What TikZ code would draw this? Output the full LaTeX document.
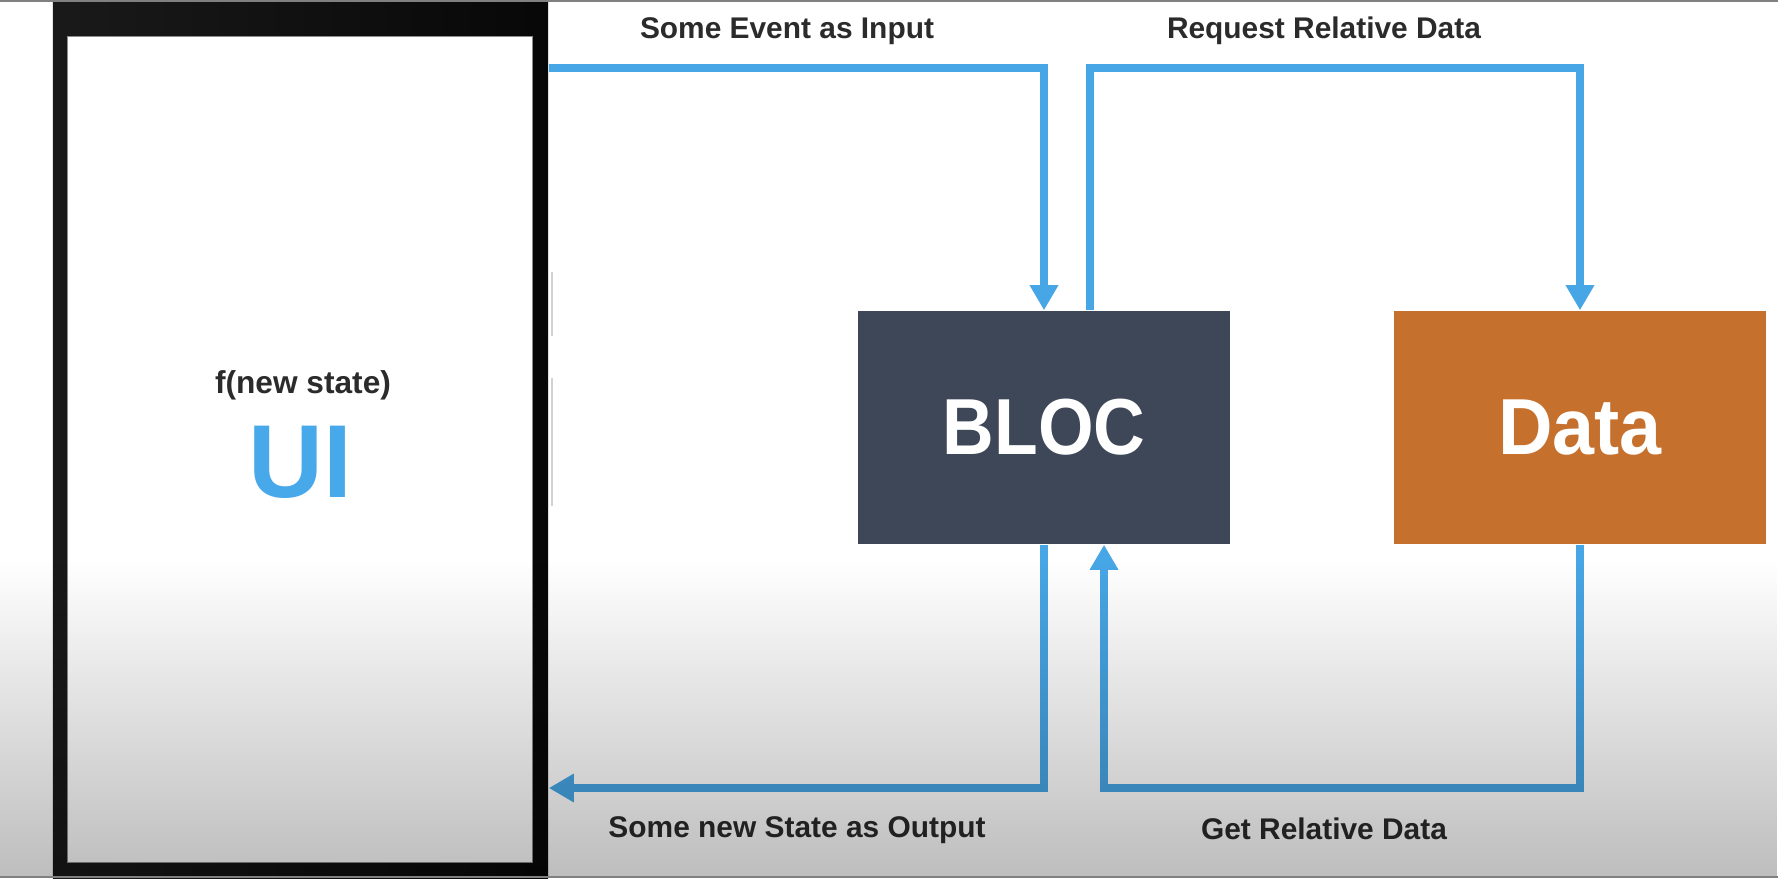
\documentclass[tikz,border=0pt]{standalone}
\usepackage{fontspec}
\usepackage{graphicx}
\setmainfont{Liberation Sans}
\usetikzlibrary{arrows.meta,fadings}
\definecolor{flowblue}{HTML}{47A6E5}
\definecolor{uiblue}{HTML}{47A8EA}
\definecolor{blocfill}{HTML}{3D4758}
\definecolor{datafill}{HTML}{C6702D}
\definecolor{labelgray}{HTML}{2B2B2B}
\tikzfading[name=fadedown, top color=transparent!100, bottom color=transparent!0]
\tikzset{
  flow/.style={draw=flowblue, line width=0.08cm, -{Triangle[length=0.25cm,width=0.27cm]}},
  boxnode/.style={minimum width=3.72cm, minimum height=2.33cm, inner sep=0pt, text=white,
    font=\bfseries\fontsize{22.6pt}{26pt}\selectfont},
  lab/.style={text=labelgray, inner sep=0pt, font=\bfseries\fontsize{8.5pt}{10pt}\selectfont},
  phonebody/.style={minimum width=4.95cm, minimum height=8.78cm, inner sep=0pt,
    left color=black!90, right color=black!97, draw=none},
  screenbox/.style={minimum width=4.64cm, minimum height=8.25cm, inner sep=0pt,
    fill=white, draw=black!45, line width=0.01cm},
  sidebtn/.style={draw=black!18, line width=0.02cm},
}
\begin{document}
\begin{tikzpicture}[x=0.01cm,y=-0.01cm]
\useasboundingbox (0,0) rectangle (1778,878);
\clip (0,0) rectangle (1778,878);
\fill[white] (0,0) rectangle (1778,878);
% phone
\node[phonebody] (phone) at (300.5,439) {};
\node[screenbox] (screen) at (300,449.5) {};
\draw[sidebtn] (552,272) -- (552,336);
\draw[sidebtn] (552,378) -- (552,506);
\node[lab, font=\bfseries\fontsize{9pt}{11pt}\selectfont] (fstate) at (303,385) {f(new state)};
\node[inner sep=0pt, text=uiblue, font=\bfseries\fontsize{29.5pt}{32pt}\selectfont] (ui) at (300,462) {UI};
% boxes
\node[boxnode, fill=blocfill] (bloc) at (1044,427.5) {\scalebox{0.9}[1]{BLOC}};
\node[boxnode, fill=datafill] (data) at (1580,427.5) {\scalebox{0.95}[1]{Data}};
% helper coordinates
\coordinate (ttop) at (0,68);
\coordinate (tbot) at (0,788);
% connectors
\draw[flow] (phone.east |- ttop) -| (bloc.north);
\draw[flow] ([xshift=0.46cm]bloc.north) -- ([xshift=0.46cm]bloc.north |- ttop) -| (data.north);
\draw[flow] (bloc.south) |- (phone.east |- tbot);
\draw[flow] (data.south) |- ([xshift=0.6cm]bloc.south |- tbot) -- ([xshift=0.6cm]bloc.south);
% labels
\node[lab] (l1) at (787,31) {Some Event as Input};
\node[lab] (l2) at (1324,31) {Request Relative Data};
\node[lab] (l3) at (797,830) {Some new State as Output};
\node[lab] (l4) at (1324,829) {Get Relative Data};
% bottom shading overlay
\fill[black, fill opacity=0.26, path fading=fadedown] (0,560) rectangle (1778,878);
% frame lines
\draw[black!50, line width=0.02cm] (0,1) -- (1778,1);
\draw[black!50, line width=0.02cm] (0,877) -- (1778,877);
\end{tikzpicture}
\end{document}
